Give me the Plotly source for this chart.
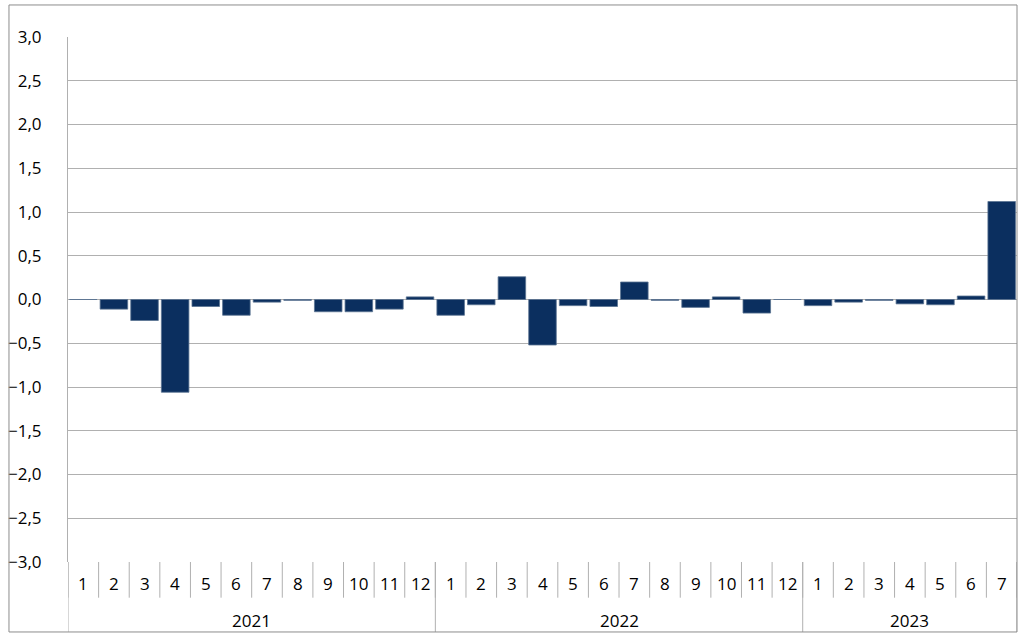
import plotly.graph_objects as go

years = ["2021", "2022", "2023"]
months_per_year = [12, 12, 7]
month_labels = [str(m) for n in months_per_year for m in range(1, n + 1)]
values = [
    0.0, -0.11, -0.24, -1.06, -0.08, -0.18, -0.03, -0.01, -0.14, -0.14, -0.11, 0.03,
    -0.18, -0.06, 0.26, -0.52, -0.07, -0.08, 0.20, -0.01, -0.09, 0.03, -0.155, 0.0,
    -0.07, -0.03, -0.01, -0.05, -0.06, 0.04, 1.12,
]
y_ticks = [-3.0, -2.5, -2.0, -1.5, -1.0, -0.5, 0.0, 0.5, 1.0, 1.5, 2.0, 2.5, 3.0]

xs = list(range(len(values)))
grid = "#b0b0b0"
font = "Open Sans, Lato, sans-serif"
fsize = 17

fig = go.Figure(go.Bar(
    x=xs, y=values,
    marker=dict(color="#0b2f5f", line=dict(color="#5a7392", width=0.8)),
    width=0.9,
))

shapes = []
annotations = []
for i in range(len(values) + 1):
    shapes.append(dict(type="line", xref="x", yref="paper", x0=i - 0.5, x1=i - 0.5,
                       y0=0, y1=-0.068, line=dict(color=grid, width=1)))
bounds = [0]
for n in months_per_year:
    bounds.append(bounds[-1] + n)
for b in bounds:
    shapes.append(dict(type="line", xref="x", yref="paper", x0=b - 0.5, x1=b - 0.5,
                       y0=0, y1=-0.1333, line=dict(color=grid, width=1)))
for yi, y in enumerate(years):
    mid = (bounds[yi] + bounds[yi + 1] - 1) / 2
    annotations.append(dict(x=mid, y=-0.111, xref="x", yref="paper", text=y,
                            yanchor="middle", xanchor="center",
                            showarrow=False, font=dict(size=fsize, color="#000", family=font)))
for i, m in enumerate(month_labels):
    annotations.append(dict(x=i, y=-0.04, xref="x", yref="paper", text=m,
                            yanchor="middle", xanchor="center",
                            showarrow=False, font=dict(size=fsize, color="#000", family=font)))
shapes.append(dict(type="rect", xref="paper", yref="paper", x0=-0.0622, x1=1.0,
                   y0=-0.1333, y1=1.061, line=dict(color="#8c8c8c", width=1)))

fig.update_layout(
    width=1021, height=637,
    margin=dict(l=68, r=4, t=37, b=75, autoexpand=False),
    plot_bgcolor="white", paper_bgcolor="white",
    showlegend=False,
    separators=",.",
    font=dict(family=font, size=fsize, color="#000"),
    xaxis=dict(range=[-0.5, len(values) - 0.5], showticklabels=False, showgrid=False,
               zeroline=False, ticks="", showline=False, fixedrange=True, automargin=False),
    yaxis=dict(range=[-3, 3], tickvals=y_ticks, tickformat=".1f", showgrid=True,
               gridcolor=grid, gridwidth=1, zeroline=True, zerolinecolor=grid,
               zerolinewidth=1, showline=True, linecolor=grid, ticks="",
               ticklabelstandoff=22, automargin=False,
               tickfont=dict(size=fsize, family=font, color="#000")),
    shapes=shapes,
    annotations=annotations,
)

fig.write_html("out.html", config={"displayModeBar": False},
               post_script="document.body.style.margin='0px';document.body.style.overflow='hidden';")
